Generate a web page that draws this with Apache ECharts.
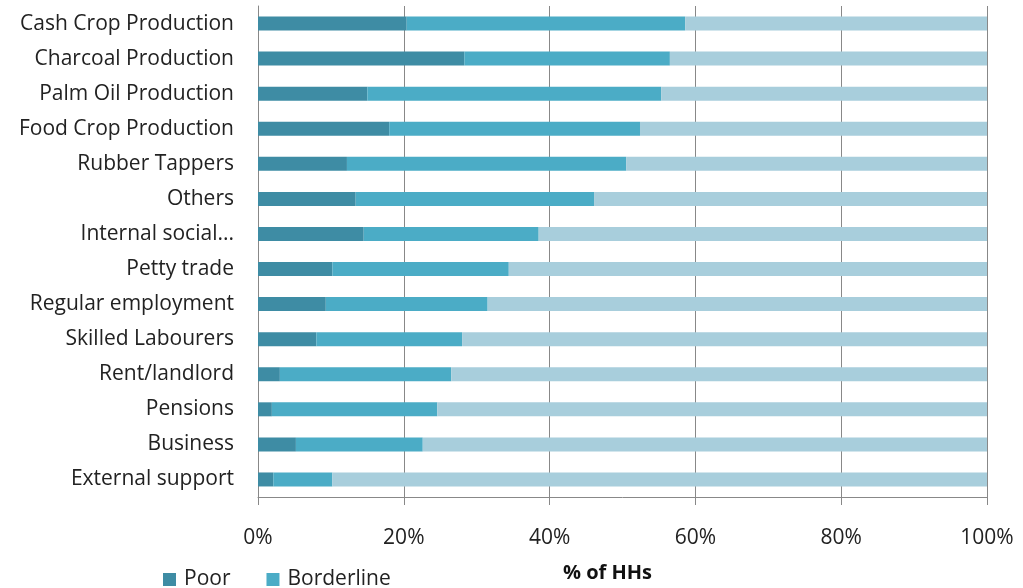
<!DOCTYPE html>
<html>
<head>
<meta charset="utf-8">
<script src="https://cdn.jsdelivr.net/npm/echarts@6/dist/echarts.min.js"></script>
<style>
  html, body { margin: 0; padding: 0; background: #fff; }
  #chart { width: 1023px; height: 588px; }
</style>
</head>
<body>
<div id="chart"></div>
<script>
// categories, bottom to top (as the category axis draws them)
var categories = ['External support', 'Business', 'Pensions', 'Rent/landlord', 'Skilled Labourers',
  'Regular employment', 'Petty trade', 'Internal social...', 'Others', 'Rubber Tappers',
  'Food Crop Production', 'Palm Oil Production', 'Charcoal Production', 'Cash Crop Production'];

// % of HHs
var poor       = [2.1, 5.2, 1.9, 3.0, 8.0, 9.3, 10.2, 14.5, 13.4, 12.2, 18.0, 15.0, 28.3, 20.4];
var borderline = [8.1, 17.4, 22.7, 23.5, 20.0, 22.2, 24.2, 24.0, 32.7, 38.3, 34.4, 40.3, 28.2, 38.2];
var acceptable = [89.8, 77.4, 75.4, 73.5, 72.0, 68.5, 65.6, 61.5, 53.9, 49.5, 47.6, 44.7, 43.5, 41.4];

var xTicks = [0, 20, 40, 60, 80, 100];

var chart = echarts.init(document.getElementById('chart'));

var font = 'Open Sans';

chart.setOption({
    animation: false,
    grid: {
        left: 258,
        right: 36,
        top: 6,
        bottom: 89
    },
    legend: {
        data: ['Poor', 'Borderline'],
        left: 158,
        top: 564,
        itemWidth: 13,
        itemHeight: 13,
        itemGap: 36,
        itemStyle: { borderWidth: 0 },
        icon: 'rect',
        textStyle: { fontFamily: font, fontSize: 21, color: '#222', padding: [0, 0, 0, 3] }
    },
    xAxis: {
        type: 'value',
        min: xTicks[0],
        max: xTicks[xTicks.length - 1],
        interval: 20,
        name: '% of HHs',
        nameLocation: 'middle',
        nameGap: 66,
        nameTextStyle: { fontFamily: font, fontSize: 20, fontWeight: 'bold', color: '#111', padding: [0, 30, 0, 0] },
        axisLine: { show: true, lineStyle: { color: '#888' } },
        axisTick: { show: true, length: 8, lineStyle: { color: '#888' } },
        axisLabel: {
            margin: 31,
            fontFamily: font,
            fontSize: 21,
            color: '#222',
            formatter: function (v) { return v + '%'; }
        },
        splitLine: { show: true, lineStyle: { color: '#888' } }
    },
    yAxis: {
        type: 'category',
        data: categories,
        axisLine: { lineStyle: { color: '#888' } },
        axisTick: { length: 5, lineStyle: { color: '#888' } },
        axisLabel: {
            margin: 24,
            fontFamily: font,
            fontSize: 21,
            color: '#222'
        }
    },
    series: [
        {
            name: 'Poor',
            type: 'bar',
            stack: 'total',
            barWidth: 14,
            itemStyle: { color: '#3e8ca4' },
            data: poor
        },
        {
            name: 'Borderline',
            type: 'bar',
            stack: 'total',
            barWidth: 14,
            itemStyle: { color: '#4bacc6' },
            data: borderline
        },
        {
            name: 'Acceptable',
            type: 'bar',
            stack: 'total',
            barWidth: 14,
            itemStyle: { color: '#a8cedc' },
            data: acceptable
        }
    ]
});
</script>
</body>
</html>
